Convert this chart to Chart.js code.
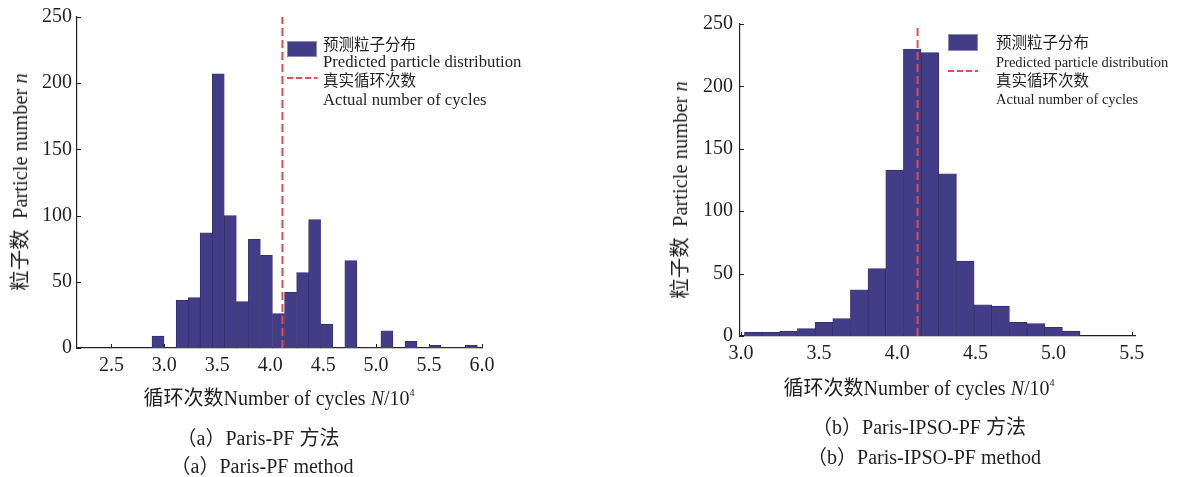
<!DOCTYPE html>
<html><head><meta charset="utf-8">
<script src="https://cdn.jsdelivr.net/npm/chart.js@4.4.1/dist/chart.umd.min.js"></script>
<style>
html,body{margin:0;padding:0;background:#fff;}
body{width:1204px;height:477px;position:relative;overflow:hidden;font-family:'Liberation Serif','Noto Sans CJK SC',serif;color:#231f20;}
.cv{position:absolute;top:0;}
.t{position:absolute;white-space:nowrap;line-height:20px;}
.c{transform:translate(-50%,-50%);}
.cj{font-family:'Noto Sans CJK SC',sans-serif;font-size:15.5px;}
.sw{position:absolute;background:#433d88;border:1px solid #8d8ab8;box-sizing:border-box;}
.dash{position:absolute;height:2px;background:repeating-linear-gradient(to right,#e94a52 0 6px,transparent 6px 9px);}
.rot{transform:translate(-50%,-50%) rotate(-90deg);font-size:20.5px;}
sup{font-size:10px;vertical-align:0;position:relative;top:-9px;}
.xt{font-size:20px;}
.cap{font-size:20px;}
</style></head>
<body>
<canvas id="c1" class="cv" width="560" height="400" style="left:0"></canvas>
<canvas id="c2" class="cv" width="564" height="400" style="left:640px"></canvas>

<!-- left legend -->
<div class="sw" style="left:287px;top:41px;width:30px;height:16px"></div>
<div class="t cj" style="left:323px;top:33px">预测粒子分布</div>
<div class="t" style="left:323px;top:52px;font-size:16.7px">Predicted particle distribution</div>
<div class="dash" style="left:287px;top:77px;width:30px"></div>
<div class="t cj" style="left:323px;top:69px">真实循环次数</div>
<div class="t" style="left:323px;top:90px;font-size:16.7px">Actual number of cycles</div>

<!-- right legend -->
<div class="sw" style="left:948px;top:34px;width:30px;height:17px"></div>
<div class="t cj" style="left:996px;top:31px">预测粒子分布</div>
<div class="t" style="left:996px;top:52px;font-size:14.5px">Predicted particle distribution</div>
<div class="dash" style="left:948px;top:70px;width:30px"></div>
<div class="t cj" style="left:996px;top:69px">真实循环次数</div>
<div class="t" style="left:996px;top:89px;font-size:14.5px">Actual number of cycles</div>

<!-- axis titles -->
<div class="t rot" style="left:19px;top:182px"><span style="font-family:'Noto Sans CJK SC'">粒子数</span>&nbsp; Particle number <i>n</i></div>
<div class="t rot" style="left:679px;top:190px"><span style="font-family:'Noto Sans CJK SC'">粒子数</span>&nbsp; Particle number <i>n</i></div>
<div class="t c xt" style="left:279px;top:399px"><span style="font-family:'Noto Sans CJK SC'">循环次数</span>Number of cycles <i>N</i>/10<sup>4</sup></div>
<div class="t c xt" style="left:919px;top:389px"><span style="font-family:'Noto Sans CJK SC'">循环次数</span>Number of cycles <i>N</i>/10<sup>4</sup></div>

<!-- captions -->
<div class="t c cap" style="left:258px;top:438px">（a）Paris-PF 方法</div>
<div class="t c cap" style="left:262px;top:466px">（a）Paris-PF method</div>
<div class="t c cap" style="left:919px;top:427px">（b）Paris-IPSO-PF 方法</div>
<div class="t c cap" style="left:924px;top:457px">（b）Paris-IPSO-PF method</div>

<script>
// ---- data ----
const leftBinCenters = [2.940, 3.054, 3.168, 3.281, 3.395, 3.509, 3.623, 3.737, 3.850, 3.964, 4.078, 4.192, 4.306, 4.419, 4.533, 4.647, 4.761, 4.875, 4.988, 5.102, 5.216, 5.330, 5.444, 5.557, 5.671, 5.785, 5.899];
const leftCounts     = [9, 0, 36, 38, 87, 207, 100, 35, 82, 70, 26, 42, 57, 97, 18, 0, 66, 0, 0, 13, 0, 5, 0, 2, 0, 0, 2];
const leftActual = 4.115;
const leftXTicks = [2.5, 3.0, 3.5, 4.0, 4.5, 5.0, 5.5, 6.0];
const leftXRange = [2.175, 6.0];

const rightBinCenters = [3.079, 3.192, 3.305, 3.418, 3.531, 3.644, 3.757, 3.870, 3.983, 4.096, 4.209, 4.322, 4.435, 4.548, 4.661, 4.774, 4.887, 5.000, 5.113];
const rightCounts     = [3, 3, 4, 6, 11, 14, 37, 54, 133, 230, 227, 130, 60, 25, 24, 11, 10, 7, 4];
const rightActual = 4.13;
const rightXTicks = [3.0, 3.5, 4.0, 4.5, 5.0, 5.5];
const rightXRange = [2.994, 5.521];

const yTicks = [0, 50, 100, 150, 200, 250];
const yRange = [0, 250];

// ---- styles ----
const BAR = '#433d88', BAR_EDGE = '#2f2b6b', RED = '#e94a52', AXIS = '#231f20';
const tickFont = {family: "'Liberation Serif', serif", size: 20};

const inwardTicks = {
  id: 'inwardTicks',
  beforeDatasetsDraw(chart) {
    const {ctx, scales: {x, y}, chartArea} = chart;
    ctx.save();
    ctx.strokeStyle = AXIS; ctx.lineWidth = 1;
    x.ticks.forEach(t => {
      const px = Math.round(x.getPixelForValue(t.value)) + 0.5;
      ctx.beginPath(); ctx.moveTo(px, chartArea.bottom); ctx.lineTo(px, chartArea.bottom - 4); ctx.stroke();
    });
    y.ticks.forEach(t => {
      const py = Math.round(y.getPixelForValue(t.value)) + 0.5;
      ctx.beginPath(); ctx.moveTo(chartArea.left, py); ctx.lineTo(chartArea.left + 4, py); ctx.stroke();
    });
    ctx.restore();
  }
};

function makeChart(id, centers, counts, actual, xTicks, xRange, cfg) {
  return new Chart(document.getElementById(id), {
    data: {
      datasets: [
        {
          type: 'line', order: 0,
          data: [{x: actual, y: yRange[0]}, {x: actual, y: yRange[1]}],
          borderColor: RED, borderWidth: 2, borderDash: [8, 4], pointRadius: 0, fill: false
        },
        {
          type: 'bar', order: 1,
          data: centers.map((c, i) => ({x: c, y: counts[i]})),
          backgroundColor: BAR, borderColor: BAR_EDGE,
          borderWidth: ctx => (ctx.raw && ctx.raw.y > 0) ? 0.7 : 0,
          borderSkipped: 'start',
          barPercentage: 1.0, categoryPercentage: 1.0
        }
      ]
    },
    options: {
      responsive: false, animation: false,
      layout: {padding: {left: 0, top: cfg.top, right: cfg.right, bottom: 0}},
      plugins: {legend: {display: false}, tooltip: {enabled: false}},
      scales: {
        x: {
          type: 'linear', min: xRange[0], max: xRange[1], offset: false,
          grid: {display: false, drawTicks: false},
          border: {display: true, color: AXIS, width: 1.2},
          ticks: {font: tickFont, color: AXIS, padding: 6, maxRotation: 0,
                  callback: v => Number(v).toFixed(1)},
          afterBuildTicks: s => { s.ticks = xTicks.map(v => ({value: v})); },
          afterFit: s => { s.height = cfg.xh; }
        },
        y: {
          type: 'linear', min: yRange[0], max: yRange[1],
          grid: {display: false, drawTicks: false},
          border: {display: true, color: AXIS, width: 1.2},
          ticks: {font: tickFont, color: AXIS, padding: cfg.ypad},
          afterBuildTicks: s => { s.ticks = yTicks.map(v => ({value: v})); },
          afterFit: s => { s.width = cfg.yw; }
        }
      }
    },
    plugins: [inwardTicks]
  });
}

makeChart('c1', leftBinCenters, leftCounts, leftActual, leftXTicks, leftXRange,
  {top: 15, right: 78, xh: 52, yw: 77, ypad: 5});
makeChart('c2', rightBinCenters, rightCounts, rightActual, rightXTicks, rightXRange,
  {top: 24, right: 69, xh: 64, yw: 100, ypad: 7});
</script>
</body></html>
